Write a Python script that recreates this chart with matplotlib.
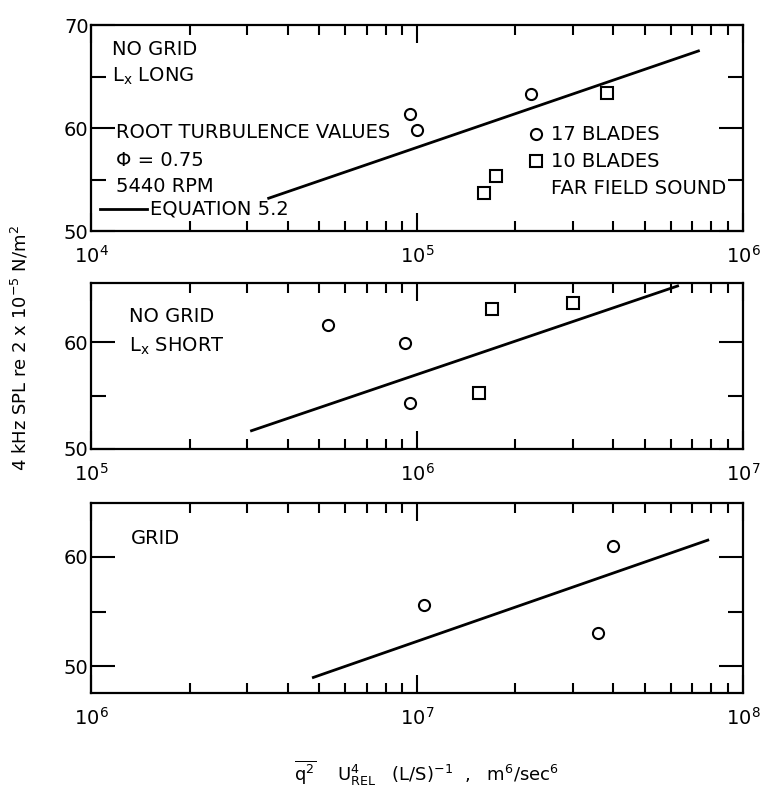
import matplotlib
matplotlib.use('Agg')
import matplotlib.pyplot as plt
from matplotlib.ticker import LogLocator, NullFormatter, FixedLocator

plt.rcParams['font.family'] = ['DejaVu Sans']
plt.rcParams['mathtext.default'] = 'regular'
plt.rcParams['font.size'] = 14

# ---- data ----
# panel 1 : no grid, Lx long
p1_c17_x = [9.5e4, 1.0e5, 2.23e5]
p1_c17_y = [61.4, 59.8, 63.3]
p1_b10_x = [1.6e5, 1.75e5, 3.82e5]
p1_b10_y = [53.7, 55.4, 63.4]
p1_eq_x = [3.5e4, 7.3e5]
p1_eq_y = [53.2, 67.5]

# panel 2 : no grid, Lx short
p2_c17_x = [5.33e5, 9.2e5, 9.5e5]
p2_c17_y = [61.6, 59.9, 54.3]
p2_b10_x = [1.7e6, 3.0e6, 1.55e6]
p2_b10_y = [63.1, 63.7, 55.2]
p2_eq_x = [3.1e5, 6.3e6]
p2_eq_y = [51.7, 65.3]

# panel 3 : grid
p3_c17_x = [1.05e7, 4.0e7, 3.6e7]
p3_c17_y = [55.6, 61.0, 53.0]
p3_eq_x = [4.8e6, 7.8e7]
p3_eq_y = [49.0, 61.5]

fig = plt.figure(figsize=(7.62, 8.0), dpi=100)
ax1 = fig.add_axes([0.12, 0.711, 0.855, 0.2575])
ax2 = fig.add_axes([0.12, 0.439, 0.855, 0.2075])
ax3 = fig.add_axes([0.12, 0.134, 0.855, 0.2375])

def style(ax, x0, ylim, yticks, yminor):
    ax.set_xscale('log')
    ax.set_xlim(10**x0, 10**(x0 + 2))
    ax.set_ylim(*ylim)
    ax.xaxis.set_major_locator(FixedLocator([10**x0, 10**(x0 + 1), 10**(x0 + 2)]))
    ax.xaxis.set_minor_locator(LogLocator(base=10, subs=range(2, 10)))
    ax.xaxis.set_minor_formatter(NullFormatter())
    ax.set_xticklabels(['$10^{%d}$' % x0, '$10^{%d}$' % (x0 + 1), '$10^{%d}$' % (x0 + 2)])
    ax.set_yticks(yticks)
    ax.set_yticklabels([str(v) for v in yticks])
    ax.yaxis.set_minor_locator(FixedLocator(yminor))
    ax.tick_params(axis='x', which='major', direction='in', top=True,
                   length=13, width=1.5, labelsize=14, pad=10)
    ax.tick_params(axis='x', which='minor', direction='in', top=True,
                   length=7, width=1.5)
    ax.tick_params(axis='y', which='major', direction='in', right=True,
                   length=17, width=1.5, labelsize=14, pad=2)
    ax.tick_params(axis='y', which='minor', direction='in', right=True,
                   length=11, width=1.5)
    for s in ax.spines.values():
        s.set_linewidth(1.6)

style(ax1, 4, (50, 70), [50, 60, 70], [55, 65])
style(ax2, 5, (50, 65.6), [50, 60], [55])
style(ax3, 6, (47.6, 64.9), [50, 60], [55])

mk = dict(ls='none', mfc='white', mec='black', mew=1.5, ms=8)

ax1.plot(p1_eq_x, p1_eq_y, color='black', lw=2)
ax1.plot(p1_c17_x, p1_c17_y, marker='o', **mk)
ax1.plot(p1_b10_x, p1_b10_y, marker='s', **mk)

ax2.plot(p2_eq_x, p2_eq_y, color='black', lw=2)
ax2.plot(p2_c17_x, p2_c17_y, marker='o', **mk)
ax2.plot(p2_b10_x, p2_b10_y, marker='s', **mk)

ax3.plot(p3_eq_x, p3_eq_y, color='black', lw=2)
ax3.plot(p3_c17_x, p3_c17_y, marker='o', **mk)

# annotations, panel 1
t = ax1.transAxes
ax1.text(0.032, 0.88, 'NO GRID', transform=t, va='center')
ax1.text(0.032, 0.75, '$L_x$ LONG', transform=t, va='center')
ax1.text(0.038, 0.48, 'ROOT TURBULENCE VALUES', transform=t, va='center')
ax1.text(0.038, 0.345, '\u03a6 = 0.75', transform=t, va='center')
ax1.text(0.038, 0.215, '5440 RPM', transform=t, va='center')
ax1.plot([0.013, 0.086], [0.11, 0.11], transform=t, color='black', lw=2, clip_on=False)
ax1.text(0.09, 0.11, 'EQUATION 5.2', transform=t, va='center')
ax1.plot([0.683], [0.47], transform=t, marker='o', **mk)
ax1.text(0.706, 0.47, '17 BLADES', transform=t, va='center')
ax1.plot([0.683], [0.34], transform=t, marker='s', **mk)
ax1.text(0.706, 0.34, '10 BLADES', transform=t, va='center')
ax1.text(0.706, 0.205, 'FAR FIELD SOUND', transform=t, va='center')

ax2.text(0.057, 0.80, 'NO GRID', transform=ax2.transAxes, va='center')
ax2.text(0.057, 0.62, '$L_x$ SHORT', transform=ax2.transAxes, va='center')

ax3.text(0.06, 0.81, 'GRID', transform=ax3.transAxes, va='center')

fig.text(0.026, 0.565, '4 kHz SPL re 2 x 10$^{-5}$ N/m$^2$', rotation=90,
         ha='center', va='center', fontsize=13)
fig.text(0.56, 0.034, r'$\overline{q^2}$    $U_{REL}^{4}$   $(L/S)^{-1}$  ,   m$^6$/sec$^6$',
         ha='center', va='center', fontsize=13)

fig.savefig('out.png', dpi=100, facecolor='white')
